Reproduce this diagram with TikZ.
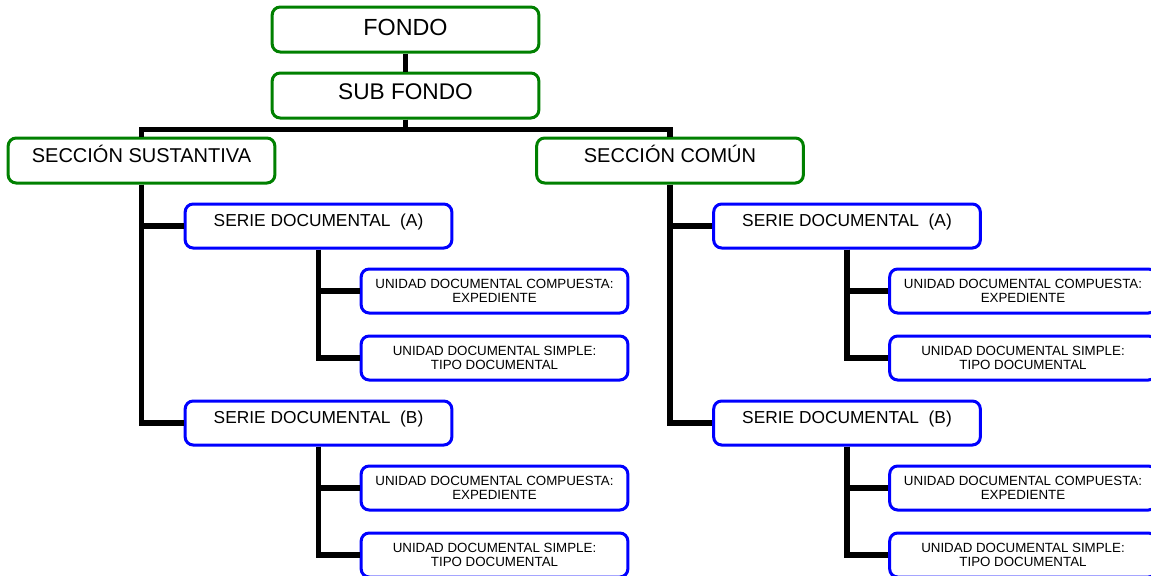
\documentclass[tikz,border=0pt]{standalone}
\usepackage{fontspec}
\setmainfont{Liberation Sans}

\tikzset{every picture/.style={line width=0.75pt}}
\tikzset{
  greenbox/.style={draw={rgb, 255:red, 0; green, 128; blue, 0 }, line width=2.25pt, rounded corners=6pt, fill=white, inner sep=0pt, minimum width=200pt},
  bluebox/.style={draw={rgb, 255:red, 0; green, 0; blue, 255 }, line width=2.25pt, rounded corners=6pt, fill=white, inner sep=0pt, minimum width=200pt},
  unitbox/.style={bluebox, minimum height=33pt, align=center, font=\fontsize{10}{10.5}\selectfont},
  conn/.style={draw=black, line width=3.9pt}
}

\begin{document}
\begin{tikzpicture}[x=0.75pt,y=0.75pt,yscale=-1,xscale=1]
\useasboundingbox (0,0) rectangle (1151,575);

%Top levels
\node [greenbox, text height=21pt, text depth=12.75pt, font=\fontsize{17.5}{20}\selectfont] (fondo) at (405.5,29.5) {FONDO};
\node [greenbox, text height=19.5pt, text depth=14.25pt, font=\fontsize{17}{20}\selectfont] (subfondo) at (405.5,95.5) {SUB FONDO};
\node [greenbox, text height=18pt, text depth=15.75pt, font=\fontsize{15}{18}\selectfont] (secsus) at (141.5,160.5) {SECCIÓN SUSTANTIVA};
\node [greenbox, text height=18pt, text depth=15.75pt, font=\fontsize{15}{18}\selectfont] (seccom) at (670,160.5) {SECCIÓN COMÚN};

%Series and units, one column for each section
\foreach \sec/\dx in {sus/0, com/528.5} {
  \node [bluebox, text height=16.5pt, text depth=16.5pt, font=\fontsize{13}{15}\selectfont] (serA\sec) at (318.5+\dx,226) {SERIE DOCUMENTAL\ \ (A)};
  \node [bluebox, text height=16.5pt, text depth=16.5pt, font=\fontsize{13}{15}\selectfont] (serB\sec) at (318.5+\dx,423) {SERIE DOCUMENTAL\ \ (B)};
  \node [unitbox] (compA\sec) at (494.5+\dx,291) {UNIDAD DOCUMENTAL COMPUESTA:\\EXPEDIENTE};
  \node [unitbox] (simpA\sec) at (494.5+\dx,358) {UNIDAD DOCUMENTAL SIMPLE:\\TIPO DOCUMENTAL};
  \node [unitbox] (compB\sec) at (494.5+\dx,488) {UNIDAD DOCUMENTAL COMPUESTA:\\EXPEDIENTE};
  \node [unitbox] (simpB\sec) at (494.5+\dx,555) {UNIDAD DOCUMENTAL SIMPLE:\\TIPO DOCUMENTAL};
}

%Connectors
\draw [conn] (fondo.south) -- (subfondo.north);
\draw [conn] (subfondo.south) -- ++(0,10) -| (secsus.north);
\draw [conn] (subfondo.south) -- ++(0,10) -| (seccom.north);
\foreach \sec in {sus, com} {
  \draw [conn] (sec\sec.south) |- (serA\sec.west);
  \draw [conn] (sec\sec.south) |- (serB\sec.west);
  \draw [conn] (serA\sec.south) |- (compA\sec.west);
  \draw [conn] (serA\sec.south) |- (simpA\sec.west);
  \draw [conn] (serB\sec.south) |- (compB\sec.west);
  \draw [conn] (serB\sec.south) |- (simpB\sec.west);
}

\end{tikzpicture}
\end{document}
